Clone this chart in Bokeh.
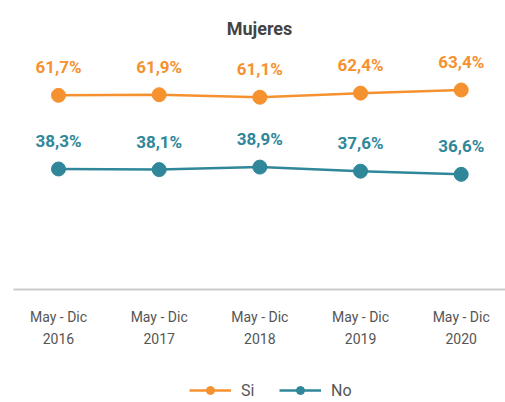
from bokeh.plotting import figure
from bokeh.layouts import column
from bokeh.models import Range1d, FixedTicker, Legend, LegendItem, ColumnDataSource
from bokeh.embed import file_html
from bokeh.resources import INLINE
from bokeh.core.properties import value

categories = ["May - Dic\n2016", "May - Dic\n2017", "May - Dic\n2018", "May - Dic\n2019", "May - Dic\n2020"]
si_values = [61.7, 61.9, 61.1, 62.4, 63.4]
no_values = [38.3, 38.1, 38.9, 37.6, 36.6]
si_labels = ["61,7%", "61,9%", "61,1%", "62,4%", "63,4%"]
no_labels = ["38,3%", "38,1%", "38,9%", "37,6%", "36,6%"]
series_names = ["Si", "No"]

ORANGE = "#F5922F"
TEAL = "#2F8799"
FONT = "Roboto"

xs = list(range(len(categories)))
src_si = ColumnDataSource(dict(x=xs, y=si_values, t=si_labels))
src_no = ColumnDataSource(dict(x=xs, y=no_values, t=no_labels))

p = figure(frame_width=492, frame_height=236, output_backend="svg", toolbar_location=None,
           x_range=Range1d(-0.447, 4.44), y_range=Range1d(0, 75),
           min_border_left=13, min_border_right=0, min_border_top=53, min_border_bottom=60)

p.title.text = "Mujeres"
p.title.align = "center"
p.title.text_font = FONT
p.title.text_font_size = "18px"
p.title.text_font_style = "bold"
p.title.text_color = "#444444"
p.title.standoff = 29

p.outline_line_color = None
p.xgrid.visible = False
p.ygrid.visible = False
p.yaxis.visible = False

ax = p.xaxis[0]
ax.ticker = FixedTicker(ticks=xs)
ax.major_label_overrides = {i: c for i, c in enumerate(categories)}
ax.major_tick_line_color = None
ax.minor_tick_line_color = None
ax.major_tick_out = 0
ax.axis_line_color = "#cccccc"
ax.axis_line_width = 2
ax.major_label_text_font = FONT
ax.major_label_text_font_size = "14px"
ax.major_label_text_line_height = 1.4
ax.major_label_text_color = "#555555"
ax.major_label_standoff = 19

p.line("x", "y", source=src_si, line_color=ORANGE, line_width=2.5)
p.scatter("x", "y", source=src_si, size=14, fill_color=ORANGE, line_color=ORANGE)
p.line("x", "y", source=src_no, line_color=TEAL, line_width=2.5)
p.scatter("x", "y", source=src_no, size=14, fill_color=TEAL, line_color=TEAL)

for src, col in ((src_si, ORANGE), (src_no, TEAL)):
    p.text("x", "y", text="t", source=src, text_color=col, text_font=value(FONT),
           text_font_size="17px", text_font_style="bold", text_align="center",
           text_baseline="alphabetic", y_offset=-28)

# legend strip (series drawn off-range; only their legend entries show)
lg = figure(width=505, height=53, output_backend="svg", toolbar_location=None,
            x_range=Range1d(0, 1), y_range=Range1d(0, 1),
            x_axis_type=None, y_axis_type=None, min_border=0)
lg.outline_line_color = None
items = []
for name, src, col in zip(series_names, (src_si, src_no), (ORANGE, TEAL)):
    r1 = lg.line("x", "y", source=src, line_color=col, line_width=2.5)
    r2 = lg.scatter("x", "y", source=src, size=14, fill_color=col, line_color=col)
    items.append(LegendItem(label=name, renderers=[r1, r2]))
legend = Legend(items=items, orientation="horizontal", location=(176, 2),
                label_text_font=FONT, label_text_font_size="16px", label_text_color="#555555",
                glyph_width=42, label_standoff=10, spacing=18, border_line_color=None,
                margin=0, padding=0, background_fill_alpha=0)
lg.add_layout(legend)

layout = column(p, lg, spacing=0)
open("out.html", "w").write(file_html(layout, INLINE))
